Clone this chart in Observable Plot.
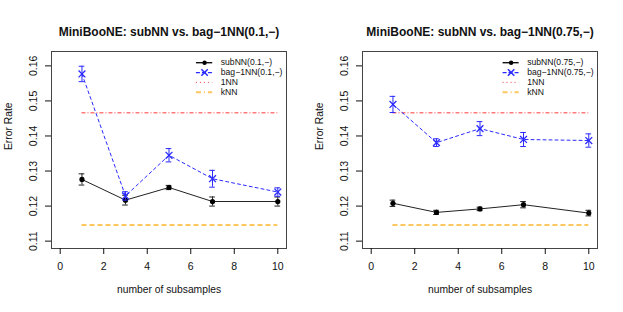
<!DOCTYPE html>
<html>
<head>
<meta charset="utf-8">
<script src="https://cdn.jsdelivr.net/npm/d3@7"></script>
<script src="https://cdn.jsdelivr.net/npm/@observablehq/plot@0.6"></script>
<style>
  body { margin: 0; background: #fff; }
  #wrap { display: flex; width: 623px; height: 312px; }
</style>
</head>
<body>
<div id="wrap"></div>
<script>
// ---- data ----
const subsamples = [1, 3, 5, 7, 10];

const titles = ["MiniBooNE: subNN vs. bag\u22121NN(0.1,\u2212)", "MiniBooNE: subNN vs. bag\u22121NN(0.75,\u2212)"];
const legendSub = ["subNN(0.1,\u2212)", "subNN(0.75,\u2212)"];
const legendBag = ["bag\u22121NN(0.1,\u2212)", "bag\u22121NN(0.75,\u2212)"];
const legendRef = ["1NN", "kNN"];

// left panel (0.1)
const subNN01 = [0.1276, 0.1217, 0.1253, 0.1213, 0.1213];
const subNN01Err = [0.0016, 0.0014, 0.0006, 0.0013, 0.0013];
const bag01 = [0.1577, 0.1229, 0.1345, 0.1278, 0.1240];
const bag01Err = [0.0022, 0.0012, 0.0019, 0.0024, 0.0012];

// right panel (0.75)
const subNN075 = [0.1208, 0.1182, 0.1192, 0.1204, 0.1180];
const subNN075Err = [0.0009, 0.0006, 0.0005, 0.0009, 0.0008];
const bag075 = [0.1490, 0.1381, 0.1421, 0.1390, 0.1387];
const bag075Err = [0.0023, 0.0011, 0.0020, 0.0020, 0.0019];

const oneNN = 0.1466;
const kNN = 0.1146;

const xTicks = [0, 2, 4, 6, 8, 10];
const yTicks = [0.11, 0.12, 0.13, 0.14, 0.15, 0.16];

// ---- drawing ----
const BLUE = "#2a2aff";
const RED = "#ff3a3a";
const ORANGE = "#ffc760";
function rows(vals, errs) {
  return subsamples.map((x, i) => ({x, y: vals[i], lo: vals[i] - errs[i], hi: vals[i] + errs[i]}));
}

function panel(k, width, sub, subErr, bag, bagErr, leg) {
  const s = rows(sub, subErr), b = rows(bag, bagErr);
  const cap = 0.13;
  const caps = d => [...d.map(r => ({x1: r.x - cap, x2: r.x + cap, y: r.lo})), ...d.map(r => ({x1: r.x - cap, x2: r.x + cap, y: r.hi}))];
  const ly = [0.1609, 0.1581, 0.1553, 0.1525];
  const lmid = (leg.x1 + leg.x2) / 2;
  return Plot.plot({
    width, height: 312,
    marginLeft: 51, marginRight: width - 286, marginTop: 51, marginBottom: 64,
    style: {fontFamily: "'Liberation Sans', Arial, sans-serif", fontSize: "10px", background: "white", color: "#111"},
    x: {domain: [-0.4, 10.4]},
    y: {domain: [0.1079, 0.1641]},
    marks: [
      Plot.frame({stroke: "#444", strokeWidth: 1}),
      Plot.axisX({ticks: xTicks, tickSize: 6, tickPadding: 8, tickFormat: d => String(d), label: null, fontSize: 10.5}),
      Plot.axisY({ticks: yTicks, tickSize: 6, tickPadding: 9, tickFormat: d => d.toFixed(2), tickRotate: -90, label: null, fontSize: 10.5}),
      // reference lines
      Plot.ruleY([oneNN], {x1: 1, x2: 10, stroke: RED, strokeWidth: 1, strokeDasharray: "4,2,1,2"}),
      Plot.ruleY([kNN], {x1: 1, x2: 10, stroke: ORANGE, strokeWidth: 2, strokeDasharray: "5,3"}),
      // subNN
      Plot.line(s, {x: "x", y: "y", stroke: "#222", strokeWidth: 1}),
      Plot.ruleX(s, {x: "x", y1: "lo", y2: "hi", stroke: "#222", strokeWidth: 1}),
      Plot.ruleY(caps(s), {x1: "x1", x2: "x2", y: "y", stroke: "#222", strokeWidth: 1}),
      Plot.dot(s, {x: "x", y: "y", r: 2.6, fill: "#000", stroke: "none"}),
      // bag
      Plot.line(b, {x: "x", y: "y", stroke: BLUE, strokeWidth: 1, strokeDasharray: "3,3"}),
      Plot.ruleX(b, {x: "x", y1: "lo", y2: "hi", stroke: BLUE, strokeWidth: 1}),
      Plot.ruleY(caps(b), {x1: "x1", x2: "x2", y: "y", stroke: BLUE, strokeWidth: 1}),
      Plot.dot(b, {x: "x", y: "y", r: 3.2, symbol: "times", stroke: BLUE, strokeWidth: 1.3}),
      // legend
      Plot.ruleY([ly[0]], {x1: leg.x1, x2: leg.x2, stroke: "#000", strokeWidth: 1.3}),
      Plot.dot([{x: lmid, y: ly[0]}], {x: "x", y: "y", r: 2.2, fill: "#000"}),
      Plot.ruleY([ly[1]], {x1: leg.x1, x2: leg.x2, stroke: BLUE, strokeWidth: 1.3, strokeDasharray: "4,2"}),
      Plot.dot([{x: lmid, y: ly[1]}], {x: "x", y: "y", r: 3, symbol: "times", stroke: BLUE, strokeWidth: 1.5}),
      Plot.ruleY([ly[2]], {x1: leg.x1, x2: leg.x2, stroke: RED, strokeWidth: 1, strokeDasharray: "1,3"}),
      Plot.ruleY([ly[3]], {x1: leg.x1, x2: leg.x2, stroke: ORANGE, strokeWidth: 2, strokeDasharray: "5,3,1,3"}),
      Plot.text([legendSub[k], legendBag[k], legendRef[0], legendRef[1]], {x: leg.tx, y: (d, i) => ly[i], text: d => d, textAnchor: "start", fontSize: 8.6, fill: "#111"}),
      // titles / labels
      Plot.text([titles[k]], {frameAnchor: "top", dy: -24, fontWeight: "bold", fontSize: 12, fill: "#111"}),
      Plot.text(["Error Rate"], {frameAnchor: "left", dx: -43, rotate: -90, fontSize: 10.3, fill: "#111"}),
      Plot.text(["number of subsamples"], {frameAnchor: "bottom", dy: 44, fontSize: 10.3, fill: "#111"})
    ]
  });
}

const wrap = document.getElementById("wrap");
wrap.append(panel(0, 311, subNN01, subNN01Err, bag01, bag01Err, {x1: 6.26, x2: 7.01, tx: 7.38}));
wrap.append(panel(1, 312, subNN075, subNN075Err, bag075, bag075Err, {x1: 6.06, x2: 6.80, tx: 7.17}));
</script>
</body>
</html>
